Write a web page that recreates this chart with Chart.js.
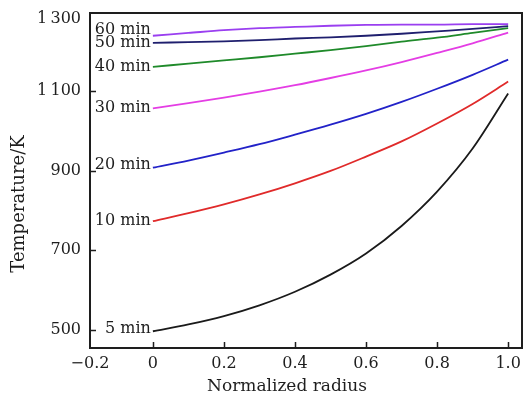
<!DOCTYPE html>
<html>
<head>
<meta charset="utf-8">
<script src="https://cdn.jsdelivr.net/npm/chart.js@4"></script>
<style>
  html, body { margin: 0; padding: 0; background: #fff; }
  #wrap { width: 524px; height: 398px; }
</style>
</head>
<body>
<div id="wrap"><canvas id="tempChart"></canvas></div>
<script>
// normalized radius positions
const radius = [0, 0.1, 0.2, 0.3, 0.4, 0.5, 0.6, 0.7, 0.8, 0.9, 1.0];

// temperature profiles (K) after each heating time
const t5  = [497, 514, 535, 562, 596, 639, 692, 761, 847, 955, 1093];
const t10 = [773, 793, 815, 840, 868, 899, 935, 973, 1018, 1067, 1123];
const t20 = [907, 925, 945, 966, 990, 1015, 1042, 1072, 1105, 1140, 1178];
const t30 = [1056, 1069, 1083, 1098, 1114, 1132, 1151, 1172, 1195, 1219, 1246];
const t40 = [1160, 1168, 1176, 1184, 1193, 1202, 1212, 1223, 1233, 1245, 1257];
const t50 = [1220, 1222, 1224, 1227, 1231, 1234, 1238, 1243, 1249, 1255, 1262];
const t60 = [1238, 1245, 1252, 1257, 1260, 1263, 1265, 1266, 1266, 1267, 1267];

const seriesNames = ["5 min", "10 min", "20 min", "30 min", "40 min", "50 min", "60 min"];
const seriesColors = ["#1a1a1a", "#e02a2a", "#2222c8", "#e43de4", "#1f8a2a", "#1f1f6e", "#9a3ff0"];

const yTicks = [500, 700, 900, 1100];
const xTicks = [0, 0.2, 0.4, 0.6, 0.8, 1.0];

const FONT = "'DejaVu Serif', 'Liberation Serif', serif";
const INK = "#1e1e1e";

const series = [t5, t10, t20, t30, t40, t50, t60];
const datasets = series.map((vals, i) => ({
  label: seriesNames[i],
  data: radius.map((r, j) => ({ x: r, y: vals[j] })),
  borderColor: seriesColors[i],
  borderWidth: 1.8,
  pointRadius: 0,
  fill: false,
  cubicInterpolationMode: "monotone"
}));

// box frame, inward tick marks, curve labels and axis titles
const decorations = {
  id: "decorations",
  afterDraw(chart) {
    const { ctx, chartArea: a, scales: { x, y } } = chart;
    ctx.save();
    ctx.strokeStyle = INK;
    ctx.lineWidth = 2;
    ctx.strokeRect(a.left, a.top, a.right - a.left, a.bottom - a.top);

    ctx.lineWidth = 1.5;
    ctx.beginPath();
    xTicks.forEach(v => {
      const px = Math.round(x.getPixelForValue(v)) + 0.5;
      ctx.moveTo(px, a.bottom);
      ctx.lineTo(px, a.bottom - 6);
    });
    yTicks.forEach(v => {
      const py = Math.round(y.getPixelForValue(v)) + 0.5;
      ctx.moveTo(a.left, py);
      ctx.lineTo(a.left + 6, py);
    });
    ctx.stroke();

    // curve labels at the centre of the sample
    const nudge = { "60 min": -6, "20 min": -3, "5 min": -2 };
    ctx.fillStyle = INK;
    ctx.font = "16px " + FONT;
    ctx.textAlign = "right";
    ctx.textBaseline = "middle";
    chart.data.datasets.forEach((ds, i) => {
      const p = chart.getDatasetMeta(i).data[0];
      ctx.fillText(ds.label, p.x - 2, p.y + (nudge[ds.label] || 0));
    });

    ctx.font = "17px " + FONT;
    ctx.textAlign = "center";
    ctx.fillText("Normalized radius", 287, 387);
    ctx.font = "18px " + FONT;
    ctx.translate(19, 204);
    ctx.rotate(-Math.PI / 2);
    ctx.fillText("Temperature/K", 0, 0);
    ctx.restore();
  }
};

const ctx = document.getElementById("tempChart").getContext("2d");
new Chart(ctx, {
  type: "line",
  data: { datasets },
  options: {
    responsive: true,
    maintainAspectRatio: false,
    animation: false,
    layout: { padding: { left: 0, right: 2, top: 13, bottom: 0 } },
    plugins: { legend: { display: false }, tooltip: { enabled: false } },
    scales: {
      x: {
        type: "linear",
        min: -0.177,
        max: 1.039,
        grid: { display: false, drawTicks: false },
        border: { display: false },
        afterBuildTicks: s => {
          s.ticks = [s.min, ...xTicks].map(v => ({ value: v }));
        },
        afterFit: s => {
          s.height = 50;
          s.paddingLeft = 0;
          s.paddingRight = 0;
        },
        ticks: {
          padding: 6,
          color: INK,
          font: { family: FONT, size: 16 },
          maxRotation: 0,
          autoSkip: false,
          callback: v => (v < -0.1 ? "\u22120.2" : v === 0 ? "0" : v.toFixed(1))
        }
      },
      y: {
        min: 455,
        max: 1295,
        grid: { display: false, drawTicks: false },
        border: { display: false },
        afterBuildTicks: s => {
          s.ticks = [...yTicks, s.max].map(v => ({ value: v }));
        },
        afterFit: s => {
          s.width = 90;
          s.paddingTop = 0;
          s.paddingBottom = 0;
        },
        ticks: {
          padding: 9,
          color: INK,
          font: { family: FONT, size: 16, lineHeight: "12px" },
          autoSkip: false,
          callback: v => (v >= 1290 ? ["", "1\u2009300"] : v >= 1000 ? "1\u2009" + String(v).slice(1) : String(v))
        }
      }
    }
  },
  plugins: [decorations]
});
</script>
</body>
</html>
